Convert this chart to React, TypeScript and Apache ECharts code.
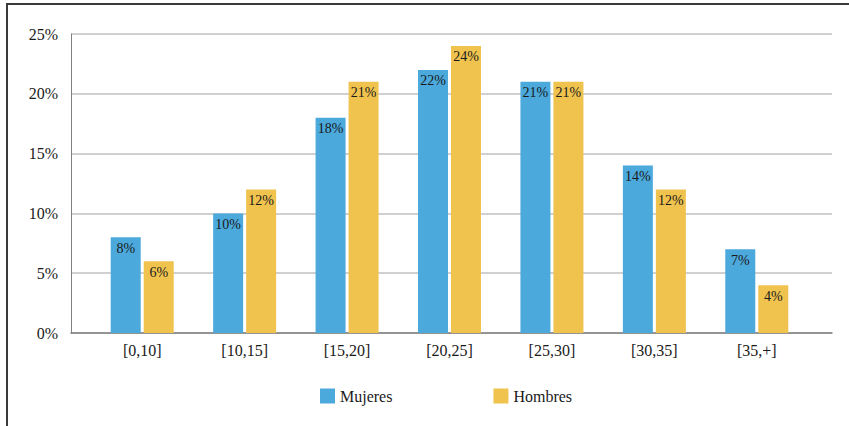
import React, { useEffect, useRef } from "react";
import * as echarts from "echarts";

const categories = ["[0,10]", "[10,15]", "[15,20]", "[20,25]", "[25,30]", "[30,35]", "[35,+]"];
const mujeres = [8, 10, 18, 22, 21, 14, 7];
const hombres = [6, 12, 21, 24, 21, 12, 4];
const seriesNames = ["Mujeres", "Hombres"];

const FONT = "Liberation Serif";

export default function App() {
  const ref = useRef<HTMLDivElement>(null);
  useEffect(() => {
    document.body.style.margin = "0";
    const chart = echarts.init(ref.current!, undefined, { renderer: "svg" });
    const label = {
      show: true,
      position: "insideTop" as const,
      distance: 4,
      formatter: "{c}%",
      color: "#1a1a1a",
      fontFamily: FONT,
      fontSize: 14,
    };
    chart.setOption({
      animation: false,
      textStyle: { fontFamily: FONT },
      graphic: [
        {
          type: "rect",
          shape: { x: 7, y: 4, width: 900, height: 500 },
          style: { fill: "none", stroke: "#3a3a3a", lineWidth: 2 },
          silent: true,
        },
      ],
      legend: {
        left: 315,
        top: 383,
        padding: 5,
        itemWidth: 15,
        itemHeight: 15,
        itemGap: 101,
        icon: "rect",
        textStyle: { fontFamily: FONT, fontSize: 16, color: "#1a1a1a" },
        data: seriesNames,
      },
      grid: [
        { left: 71, right: 17, top: 34, bottom: 93 },
        { left: 91, right: 41, top: 34, bottom: 93 },
      ],
      xAxis: [
        {
          type: "value",
          gridIndex: 0,
          min: 0,
          max: 1,
          axisLine: { show: true, onZero: false, lineStyle: { color: "#808080", width: 1.5 } },
          axisTick: { show: false },
          axisLabel: { show: false },
          splitLine: { show: false },
        },
        {
          type: "category",
          gridIndex: 1,
          data: categories,
          axisLine: { show: false },
          axisTick: { show: false },
          axisLabel: { margin: 9, fontFamily: FONT, fontSize: 16, color: "#1a1a1a" },
        },
      ],
      yAxis: [
        {
          type: "value",
          gridIndex: 0,
          min: 0,
          max: 25,
          interval: 5,
          axisLine: { show: true, lineStyle: { color: "#808080", width: 1 } },
          axisTick: { show: false },
          axisLabel: { formatter: "{value}%", margin: 13, fontFamily: FONT, fontSize: 16, color: "#1a1a1a" },
          splitLine: { show: true, lineStyle: { color: "#c0c0c0", width: 1.5 } },
        },
        {
          type: "value",
          gridIndex: 1,
          min: 0,
          max: 25,
          interval: 5,
          show: false,
          splitLine: { show: false },
        },
      ],
      series: [
        {
          name: seriesNames[0],
          type: "bar",
          xAxisIndex: 1,
          yAxisIndex: 1,
          data: mujeres,
          barWidth: 30,
          barGap: "10%",
          itemStyle: { color: "#4ba9dc" },
          label,
        },
        {
          name: seriesNames[1],
          type: "bar",
          xAxisIndex: 1,
          yAxisIndex: 1,
          data: hombres,
          barWidth: 30,
          barGap: "10%",
          itemStyle: { color: "#f0c34f" },
          label,
        },
      ],
    });
    return () => chart.dispose();
  }, []);
  return <div ref={ref} style={{ width: 849, height: 426 }} />;
}
